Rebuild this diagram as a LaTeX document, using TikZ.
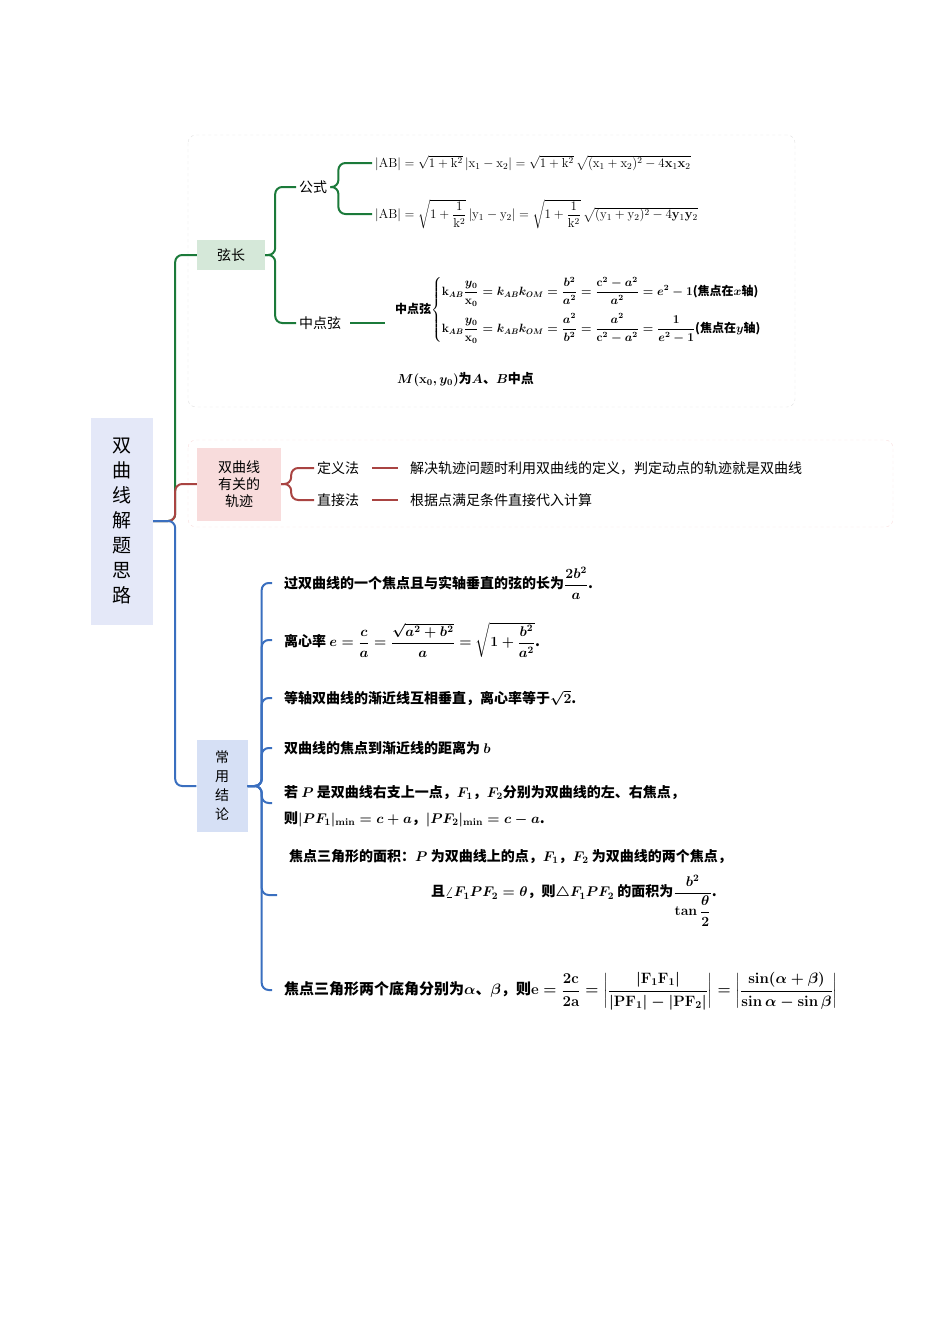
\RequirePackage{fix-cm}
\documentclass[tikz,border=0pt]{standalone}
\usepackage{amsmath}
\usepackage[no-math]{fontspec}
\setmainfont{Noto Sans CJK SC}
\usetikzlibrary{positioning}
\definecolor{gdark}{HTML}{1B7A3A}
\definecolor{glight}{HTML}{D5E8D9}
\definecolor{rdark}{HTML}{A94442}
\definecolor{rlight}{HTML}{F8DCDC}
\definecolor{bdark}{HTML}{3A6FBF}
\definecolor{blight}{HTML}{D6E0F5}
\definecolor{rootfill}{HTML}{E4E8F8}
\begin{document}
\begin{tikzpicture}[x=1pt,y=-1pt,
  box/.style={inner sep=0pt, align=center},
  leaf/.style={anchor=west, inner sep=3pt, font=\fontsize{14}{17}\selectfont},
  item/.style={anchor=west, inner sep=0pt, align=left, font=\fontsize{14}{22}\selectfont\bfseries\boldmath},
  gline/.style={gdark, line width=2pt, rounded corners=7pt},
  rline/.style={rdark, line width=2pt, rounded corners=7pt},
  bline/.style={bdark, line width=2pt, rounded corners=7pt}]
  \useasboundingbox (0,0) rectangle (950,1344);
  % frames
  \draw[gray!25, dashed, rounded corners=8pt] (188,135) rectangle (795,407);
  \draw[rlight, dashed, rounded corners=8pt] (188,440) rectangle (893,527);
  % root and first level
  \node[box, fill=rootfill, minimum width=62pt, minimum height=207pt,
        font=\fontsize{19}{25}\selectfont] (root) at (122,521) {双\\曲\\线\\解\\题\\思\\路};
  \node[box, fill=glight, minimum width=68pt, minimum height=30pt,
        font=\fontsize{14}{17}\selectfont] (xc) at (231,255) {弦长};
  \node[box, fill=rlight, minimum width=84pt, minimum height=73pt,
        font=\fontsize{14}{17}\selectfont] (gj) at (239,484) {双曲线\\有关的\\轨迹};
  \node[box, fill=blight, minimum width=51pt, minimum height=92pt,
        font=\fontsize{14}{19}\selectfont] (cy) at (222,786) {常\\用\\结\\论};
  \draw[gline] (root.east) -- ++(22,0) |- (xc.west);
  \draw[rline] (root.east) -- ++(22,0) |- (gj.west);
  \draw[bline] (root.east) -- ++(22,0) |- (cy.west);
  % chord length
  \node[leaf] (gs) at (296,187) {公式};
  \node[leaf] (zd) at (296,323) {中点弦};
  \draw[gline] (xc.east) -- ++(10,0) |- (gs.west);
  \draw[gline] (xc.east) -- ++(10,0) |- (zd.west);
  \node[leaf, font=\fontsize{13}{16}\selectfont] (f1) at (372,163)
    {$|\mathrm{AB}|=\sqrt{1+\mathrm{k}^2}\,|\mathrm{x}_1-\mathrm{x}_2|=\sqrt{1+\mathrm{k}^2}\,\sqrt{(\mathrm{x}_1+\mathrm{x}_2)^2-4\mathbf{x}_1\mathbf{x}_2}$};
  \node[leaf, font=\fontsize{13}{16}\selectfont] (f2) at (372,214)
    {$|\mathrm{AB}|=\sqrt{1+\dfrac{1}{\mathrm{k}^2}}\,|\mathrm{y}_1-\mathrm{y}_2|=\sqrt{1+\dfrac{1}{\mathrm{k}^2}}\,\sqrt{(\mathrm{y}_1+\mathrm{y}_2)^2-4\mathbf{y}_1\mathbf{y}_2}$};
  \draw[gline] (gs.east) -- ++(8,0) |- (f1.west);
  \draw[gline] (gs.east) -- ++(8,0) |- (f2.west);
  \node[leaf, inner sep=0pt, font=\fontsize{12}{15}\selectfont\bfseries\boldmath] (zdf) at (395,310)
    {中点弦$\left\{\begin{array}{@{}l@{}}
      \mathrm{k}_{AB}\dfrac{y_0}{\mathrm{x}_0}=k_{AB}k_{OM}=\dfrac{b^2}{a^2}=\dfrac{\mathrm{c}^2-a^2}{a^2}=e^2-1\text{(焦点在$x$轴)}\\[14pt]
      \mathrm{k}_{AB}\dfrac{y_0}{\mathrm{x}_0}=k_{AB}k_{OM}=\dfrac{a^2}{b^2}=\dfrac{a^2}{\mathrm{c}^2-a^2}=\dfrac{1}{e^2-1}\text{(焦点在$y$轴)}
    \end{array}\right.$};
  \draw[gdark, line width=2.5pt] ([xshift=6pt]zd.east) -- ([xshift=-10pt]zdf.west |- zd.east);
  \node[leaf, inner sep=0pt, font=\fontsize{13}{16}\selectfont\bfseries\boldmath] (mid) at (397,380)
    {$M(\mathrm{x}_0,y_0)$为$A$、$B$中点};
  % locus
  \node[leaf] (dy) at (314,468) {定义法};
  \node[leaf] (zj) at (314,500) {直接法};
  \draw[rline] (gj.east) -- ++(10,0) |- (dy.west);
  \draw[rline] (gj.east) -- ++(10,0) |- (zj.west);
  \node[leaf, inner sep=0pt] (dyt) at (410,468) {解决轨迹问题时利用双曲线的定义，判定动点的轨迹就是双曲线};
  \node[leaf, inner sep=0pt] (zjt) at (410,500) {根据点满足条件直接代入计算};
  \draw[rdark, line width=2pt] ([xshift=10pt]dy.east) -- ([xshift=-12pt]dyt.west);
  \draw[rdark, line width=2pt] ([xshift=10pt]zj.east) -- ([xshift=-12pt]zjt.west);
  % common results
  \node[item] (c1) at (284,583) {过双曲线的一个焦点且与实轴垂直的弦的长为$\dfrac{2b^2}{a}$.};
  \node[item] (c2) at (284,640) {离心率 $e=\dfrac{c}{a}=\dfrac{\sqrt{a^2+b^2}}{a}=\sqrt{1+\dfrac{b^2}{a^2}}$.};
  \node[item] (c3) at (284,698) {等轴双曲线的渐近线互相垂直，离心率等于$\sqrt{2}$.};
  \node[item] (c4) at (284,748) {双曲线的焦点到渐近线的距离为 $b$};
  \node[item] (c5) at (284,806) {若 $P$ 是双曲线右支上一点，$F_1$，$F_2$分别为双曲线的左、右焦点，\\[4pt]
    则$|PF_1|_{\min}=c+a$，$|PF_2|_{\min}=c-a$.};
  \node[item] (c6) at (289,888) {焦点三角形的面积：$P$ 为双曲线上的点，$F_1$，$F_2$ 为双曲线的两个焦点，\\[10pt]
    \hspace*{142pt}且$\angle F_1PF_2=\theta$，则$\triangle F_1PF_2$ 的面积为$\dfrac{b^2}{\tan\dfrac{\theta}{2}}$.};
  \node[item, font=\fontsize{15}{18}\selectfont\bfseries\boldmath] (c7) at (284,991)
    {焦点三角形两个底角分别为$\alpha$、$\beta$，则$\mathrm{e}=\dfrac{2\mathrm{c}}{2\mathrm{a}}=\left|\dfrac{|\mathrm{F}_1\mathrm{F}_1|}{|\mathrm{PF}_1|-|\mathrm{PF}_2|}\right|=\left|\dfrac{\sin(\alpha+\beta)}{\sin\alpha-\sin\beta}\right|$};
  \foreach \c/\y in {c1/583,c2/640,c3/698,c4/748,c5/803,c6/895,c7/990}
    \draw[bline, shorten >=12pt] (cy.east) -- ++(14,0) |- (\c.west |- 0,\y);
\end{tikzpicture}
\end{document}
